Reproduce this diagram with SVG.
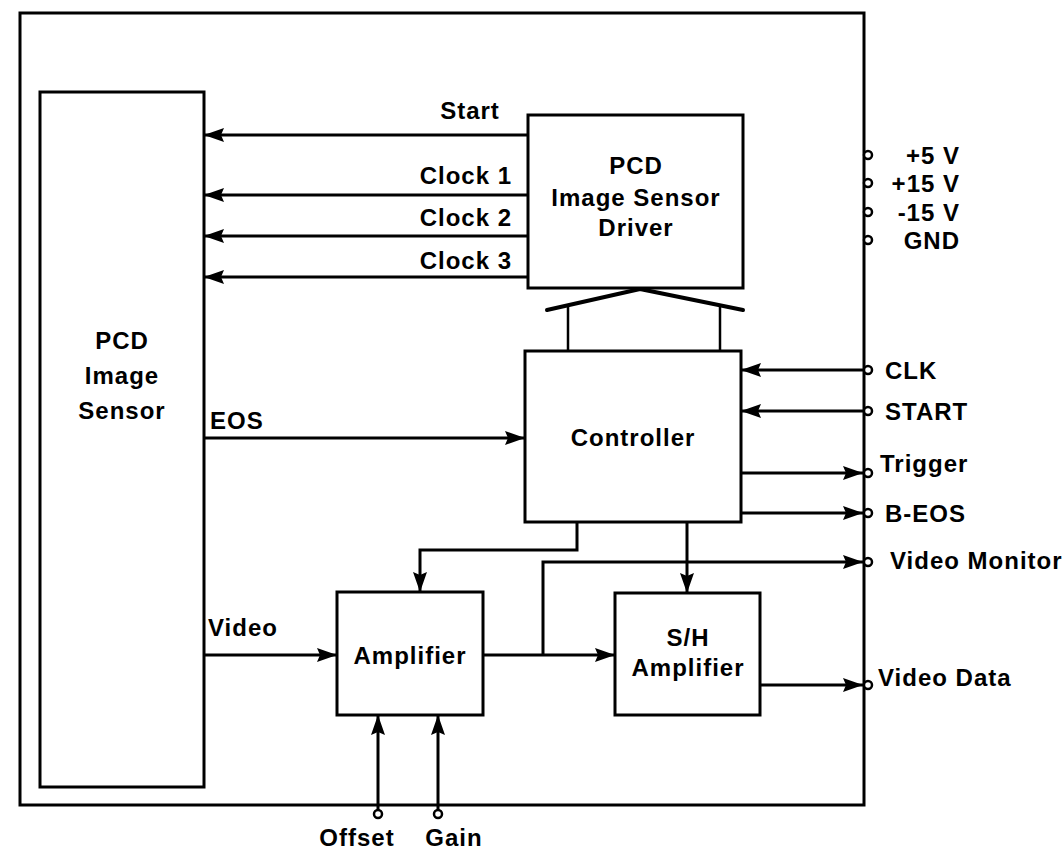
<svg xmlns="http://www.w3.org/2000/svg" width="1062" height="856" viewBox="0 0 1062 856">
<defs>
<marker id="ah" viewBox="0 0 20 14" refX="20" refY="7" markerWidth="20" markerHeight="14" markerUnits="userSpaceOnUse" orient="auto">
<path d="M0,0 L20,7 L0,14 L3,7 Z" fill="#000"/>
</marker>
<style>
.box{fill:#fff;stroke:#000;stroke-width:3}
.ln{fill:none;stroke:#000;stroke-width:2.5}
.ar{fill:none;stroke:#000;stroke-width:3;marker-end:url(#ah)}
.t{font-family:"Liberation Sans",Arial,Helvetica,sans-serif;font-size:24px;font-weight:bold;letter-spacing:1px;fill:#000}
.c{text-anchor:middle}
.r{text-anchor:end}
.term{fill:#fff;stroke:#000;stroke-width:2.5}
</style>
</defs>
<rect width="1062" height="856" fill="#fff"/>
<g id="frame">
<rect x="20" y="13" width="844" height="792" fill="none" stroke="#000" stroke-width="3"/>
</g>
<g id="sensor">
<rect class="box" x="40" y="92" width="164" height="695"/>
<text class="t c" x="122" y="349">PCD</text>
<text class="t c" x="122" y="384">Image</text>
<text class="t c" x="122" y="419">Sensor</text>
</g>
<g id="driver">
<rect class="box" x="528" y="115" width="215" height="173"/>
<text class="t c" x="636" y="174">PCD</text>
<text class="t c" x="636" y="206">Image Sensor</text>
<text class="t c" x="636" y="236">Driver</text>
</g>
<g id="controller">
<rect class="box" x="525" y="351" width="216" height="171"/>
<text class="t c" x="633" y="446">Controller</text>
</g>
<g id="amplifier">
<rect class="box" x="337" y="592" width="146" height="123"/>
<text class="t c" x="410" y="664">Amplifier</text>
</g>
<g id="sh-amplifier">
<rect class="box" x="615" y="593" width="145" height="122"/>
<text class="t c" x="688" y="646">S/H</text>
<text class="t c" x="688" y="676">Amplifier</text>
</g>
<g id="connectors">
<line class="ar" x1="528" y1="135" x2="204" y2="135"/>
<line class="ar" x1="528" y1="195" x2="204" y2="195"/>
<line class="ar" x1="528" y1="236" x2="204" y2="236"/>
<line class="ar" x1="528" y1="277" x2="204" y2="277"/>
<polyline points="547,310 640,289 743,310" fill="none" stroke="#000" stroke-width="4" stroke-linecap="round" stroke-linejoin="round"/>
<line class="ln" x1="568" y1="305" x2="568" y2="351"/>
<line class="ln" x1="720" y1="305" x2="720" y2="351"/>
<line class="ar" x1="204" y1="438" x2="525" y2="438"/>
<line class="ar" x1="864" y1="370" x2="741" y2="370"/>
<line class="ar" x1="864" y1="411" x2="741" y2="411"/>
<line class="ar" x1="741" y1="473" x2="863" y2="473"/>
<line class="ar" x1="741" y1="513" x2="863" y2="513"/>
<polyline class="ar" points="577,522 577,550 420,550 420,592"/>
<line class="ar" x1="687" y1="522" x2="687" y2="593"/>
<line class="ar" x1="204" y1="655" x2="337" y2="655"/>
<line class="ar" x1="483" y1="655" x2="615" y2="655"/>
<polyline class="ar" points="543,655 543,562 863,562"/>
<line class="ar" x1="760" y1="685" x2="863" y2="685"/>
<line class="ar" x1="378" y1="810" x2="378" y2="715"/>
<line class="ar" x1="438" y1="810" x2="438" y2="715"/>
</g>
<g id="terminals">
<circle class="term" cx="868" cy="155" r="4"/>
<circle class="term" cx="868" cy="183" r="4"/>
<circle class="term" cx="868" cy="212" r="4"/>
<circle class="term" cx="868" cy="240" r="4"/>
<circle class="term" cx="868" cy="370" r="4"/>
<circle class="term" cx="868" cy="411" r="4"/>
<circle class="term" cx="868" cy="473" r="4"/>
<circle class="term" cx="868" cy="513" r="4"/>
<circle class="term" cx="868" cy="562" r="4"/>
<circle class="term" cx="868" cy="685" r="4"/>
<circle class="term" cx="378" cy="814" r="4"/>
<circle class="term" cx="438" cy="814" r="4"/>
</g>
<g id="labels">
<text class="t c" x="470" y="119">Start</text>
<text class="t r" x="512" y="184">Clock 1</text>
<text class="t r" x="512" y="226">Clock 2</text>
<text class="t r" x="512" y="269">Clock 3</text>
<text class="t" x="210" y="429">EOS</text>
<text class="t" x="208" y="636">Video</text>
<text class="t r" x="960" y="164">+5 V</text>
<text class="t r" x="960" y="192">+15 V</text>
<text class="t r" x="960" y="221">-15 V</text>
<text class="t r" x="960" y="249">GND</text>
<text class="t" x="885" y="379">CLK</text>
<text class="t" x="885" y="420">START</text>
<text class="t" x="880" y="472">Trigger</text>
<text class="t" x="885" y="522">B-EOS</text>
<text class="t" x="890" y="569">Video Monitor</text>
<text class="t" x="878" y="686">Video Data</text>
<text class="t c" x="357" y="846">Offset</text>
<text class="t c" x="454" y="846">Gain</text>
</g>
</svg>
